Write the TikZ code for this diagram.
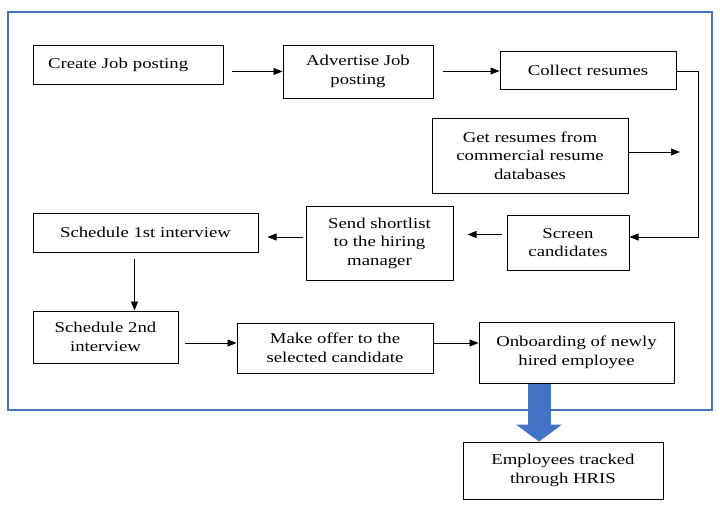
\documentclass[tikz,border=0pt]{standalone}
\usepackage{fontspec}
\setmainfont[FakeStretch=1.25]{Liberation Serif}
\usetikzlibrary{arrows.meta, calc}
\definecolor{frameblue}{RGB}{68,114,196}

\begin{document}
\begin{tikzpicture}[x=1pt, y=-1pt,
    stepbox/.style={
      draw,
      line width=1pt,
      rectangle,
      fill=white,
      align=center,
      inner sep=2pt,
      font=\fontsize{15pt}{18.5pt}\selectfont
    },
    flow/.style={draw, line width=0.6pt, -{Triangle[length=9pt,width=7pt]}}]
    \useasboundingbox (0,0) rectangle (720,504);
    \draw[frameblue, line width=1.2pt] (8,12) rectangle (712,410);

    \node[stepbox, minimum width=190pt, minimum height=39pt, text width=160pt, inner xsep=15pt, align=left] at (128,64.5) (create) {Create Job posting};
    \node[stepbox, minimum width=150pt, minimum height=53pt] at (358,71.5) (advert) {Advertise Job\\posting};
    \node[stepbox, minimum width=176pt, minimum height=38pt] at (588,70) (collect) {Collect resumes};
    \node[stepbox, minimum width=196pt, minimum height=75pt] at (530,155.5) (getres) {Get resumes from\\commercial resume\\databases};
    \node[stepbox, minimum width=122pt, minimum height=55pt] at (568,242.5) (screen) {Screen\\candidates};
    \node[stepbox, minimum width=147pt, minimum height=74pt] at (379.5,243) (shortlist) {Send shortlist\\to the hiring\\manager};
    \node[stepbox, minimum width=225pt, minimum height=39pt] at (145.5,232.5) (sched1) {Schedule 1st interview};
    \node[stepbox, minimum width=145pt, minimum height=52pt] at (105.5,337) (sched2) {Schedule 2nd\\interview};
    \node[stepbox, minimum width=196pt, minimum height=50pt] at (335,348) (offer) {Make offer to the\\selected candidate};
    \node[stepbox, minimum width=195pt, minimum height=61pt] at (576.5,352.5) (onboard) {Onboarding of newly\\hired employee};
    \node[stepbox, minimum width=200pt, minimum height=57pt] at (563,470.5) (hris) {Employees tracked\\through HRIS};

    \coordinate (bend) at (698,71);
    \coordinate (gend) at (680,152);

    \path[every edge/.style={flow}]
        (create.east |- advert.west) edge[shorten <=8pt] (advert.west)
        (advert.east |- bend) edge[shorten <=9pt] (collect.west |- bend)
        ([yshift=3.5pt]getres.east) edge (gend)
        ([yshift=8pt]screen.west) edge[shorten <=5pt, shorten >=14pt] ([yshift=8pt]screen.west -| shortlist.east)
        ([yshift=6pt]shortlist.west) edge[shorten <=3pt, shorten >=9pt] ([yshift=6pt]shortlist.west -| sched1.east)
        ([xshift=-11pt]sched1.south) edge[shorten <=6pt] ([xshift=-11pt]sched1.south |- sched2.north)
        ([yshift=-6pt]sched2.east) edge[shorten <=6pt] ([yshift=-6pt]sched2.east -| offer.west)
        ([yshift=5pt]offer.east) edge ([yshift=5pt]offer.east -| onboard.west)
        ;
    \draw[flow] (collect.east |- bend) -- (bend) |- ([yshift=5.5pt]screen.east);

    \draw[frameblue, line width=23pt, -{Triangle[length=17pt,width=46pt,line width=0pt]}]
        ([xshift=-37.5pt]onboard.south) -- ([xshift=-37.5pt]onboard.south |- hris.north);
\end{tikzpicture}
\end{document}
